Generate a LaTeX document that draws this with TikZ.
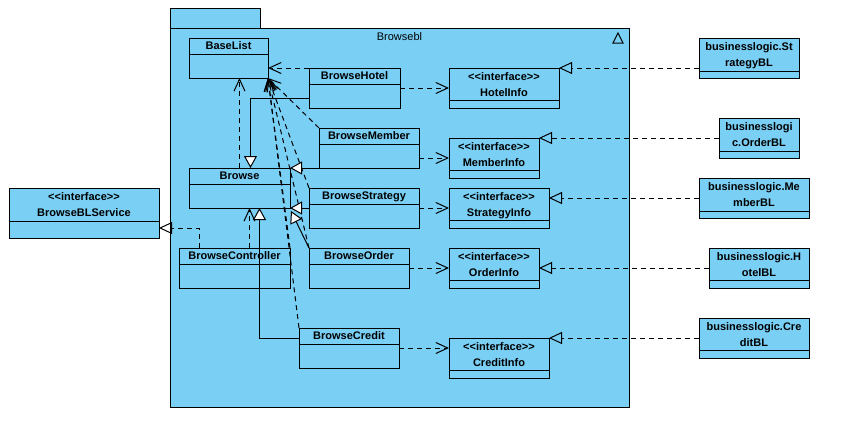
\documentclass[tikz,border=0pt]{standalone}
\usepackage{fontspec}
\setmainfont{Liberation Sans}
\usetikzlibrary{arrows.meta}
\definecolor{umlblue}{RGB}{122,207,245}
\newcommand\stereo{<\kern0pt<interface>\kern0pt>}

% class box: name, x1, y1, x2, y2, divider y, title
\newcommand\umlcls[7]{%
  \node[cls, minimum width={#4-#2}, minimum height={#5-#3}] (#1) at (#2,#3) {};
  \draw[boxline] (#1.north west |- 0,#6) -- (#1.north east |- 0,#6);
  \node[lbl] (#1-name) at (#1.north |- 0,{(#3+#6)/2}) {#7};
}
% box with two lines of text in its upper compartment
\newcommand\umltwo[8]{%
  \node[cls, minimum width={#4-#2}, minimum height={#5-#3}] (#1) at (#2,#3) {};
  \draw[boxline] (#1.north west |- 0,#6) -- (#1.north east |- 0,#6);
  \node[lbl] (#1-a) at (#1.north |- 0,{#3+9}) {#7};
  \node[lbl] (#1-b) at (#1.north |- 0,{#3+25}) {#8};
}

\begin{document}
\begin{tikzpicture}[x=1pt,y=-1pt,
  boxline/.style={line width=1pt},
  cls/.style={draw, fill=umlblue, line width=1pt, inner sep=0pt, outer sep=0pt, anchor=north west},
  lbl/.style={font=\fontsize{11}{13}\selectfont\bfseries, inner sep=0pt, text height=7.5pt, text depth=0pt},
  dep/.style={line width=1pt, dash pattern=on 5pt off 4pt, -{Straight Barb[length=12pt,width=11pt]}},
  real/.style={line width=1pt, dash pattern=on 5pt off 4pt, -{Triangle[open,length=13pt,width=12pt]}},
  gen/.style={line width=1pt, -{Triangle[open,fill=white,length=12pt,width=13pt]}}]

\useasboundingbox (0,0) rectangle (855,424);

% package frame
\node[cls, minimum width=90, minimum height=20] (pkgtab) at (170,8) {};
\node[cls, minimum width=459, minimum height=379] (pkg) at (170,28) {};
\node[font=\fontsize{11}{13}\selectfont, inner sep=0pt, text height=7.5pt, text depth=0pt] (pkgtitle) at (pkg.north |- 0,37) {Browsebl};
\draw[boxline] (613,43) -- (623,43) -- (618,33) -- cycle;

% classes in the package
\umlcls{baselist}{189}{38}{268}{78}{54}{BaseList}
\umlcls{hotel}{309}{68}{400}{108}{84}{BrowseHotel}
\umlcls{member}{319}{128}{419}{168}{144}{BrowseMember}
\umlcls{browse}{189}{168}{290}{208}{184}{Browse}
\umlcls{strategy}{309}{188}{419}{228}{204}{BrowseStrategy}
\umlcls{controller}{179}{248}{290}{288}{264}{BrowseController}
\umlcls{order}{309}{248}{409}{288}{264}{BrowseOrder}
\umlcls{credit}{299}{328}{399}{368}{344}{BrowseCredit}

% interfaces
\umltwo{hotelinfo}{449}{68}{559}{108}{100}{\stereo}{HotelInfo}
\umltwo{memberinfo}{449}{138}{539}{178}{170}{\stereo}{MemberInfo}
\umltwo{strategyinfo}{449}{188}{549}{228}{220}{\stereo}{StrategyInfo}
\umltwo{orderinfo}{449}{248}{539}{288}{280}{\stereo}{OrderInfo}
\umltwo{creditinfo}{449}{338}{549}{378}{370}{\stereo}{CreditInfo}
\umltwo{bls}{9}{188}{159}{238}{221}{\stereo}{BrowseBLService}

% business logic classes
\umltwo{sbl}{699}{38}{799}{78}{71}{businesslogic.St}{rategyBL}
\umltwo{obl}{719}{118}{799}{158}{151}{businesslogi}{c.OrderBL}
\umltwo{mbl}{699}{178}{809}{218}{211}{businesslogic.Me}{mberBL}
\umltwo{hbl}{709}{248}{809}{288}{280}{businesslogic.H}{otelBL}
\umltwo{cbl}{699}{318}{809}{358}{350}{businesslogic.Cre}{ditBL}

% realizations
\draw[real] (sbl.west |- hotelinfo.north east) -- (hotelinfo.north east);
\draw[real] (obl.west |- memberinfo.north east) -- (memberinfo.north east);
\draw[real] (mbl.west) -- (strategyinfo.east |- mbl.west);
\draw[real] (hbl.west) -- (orderinfo.east);
\draw[real] (cbl.west) -- (creditinfo.north east);
\draw[real] ([xshift=20pt]controller.north west) |- ([yshift=10pt]bls.south east);

% dependencies on the interfaces
\draw[dep] (hotel.east) -- (hotelinfo.west);
\draw[dep] (member.east |- memberinfo.west) -- (memberinfo.west);
\draw[dep] (strategy.east) -- (strategyinfo.west);
\draw[dep] (order.east) -- (orderinfo.west);
\draw[dep] (credit.east) -- (creditinfo.west |- credit.east);

% dependencies on BaseList
\draw[dep] (hotel.north west) -- (baselist.east |- hotel.north west);
\draw[dep] (browse.north) -- (browse.north |- baselist.south);
\draw[dep] (member.north west) -- (baselist.south east);
\draw[dep] (strategy.north west) -- (baselist.south east);
\draw[dep] (order.north west) -- (baselist.south east);
\draw[dep] (controller.north east) -- (baselist.south east);
\draw[dep] (credit.north west) -- (baselist.south east);

% dependency of the controller on Browse
\draw[dep] ([xshift=10pt]browse.south |- controller.north) -- ([xshift=10pt]browse.south);

% generalizations to Browse
\draw[gen] ([yshift=10pt]hotel.south west) -| ([xshift=11pt]browse.north);
\draw[gen] (member.south west) -- (browse.north east);
\draw[gen] (strategy.west) -- (browse.south east);
\draw[gen] (order.north west) -- ([shift={(1pt,-3pt)}]browse.south east);
\draw[gen] ([yshift=-10pt]credit.north west) -| ([xshift=20pt]browse.south);

\end{tikzpicture}
\end{document}
